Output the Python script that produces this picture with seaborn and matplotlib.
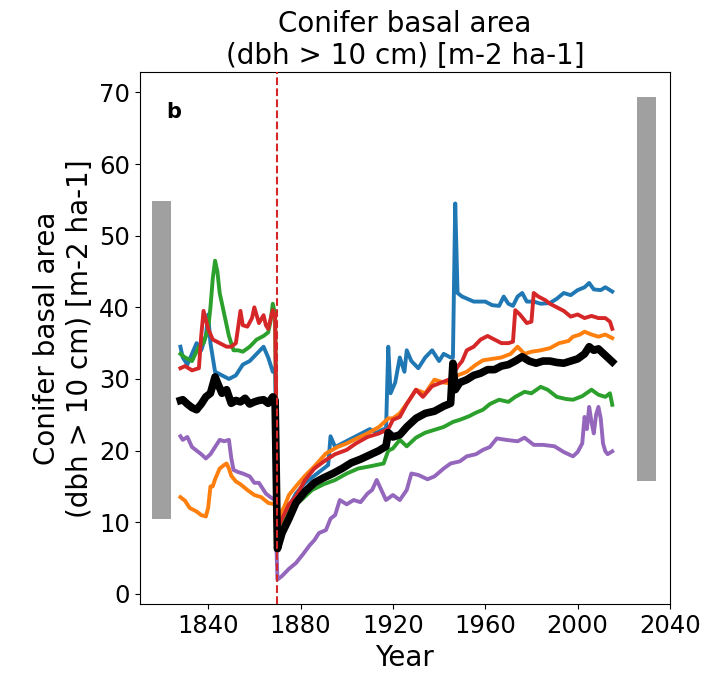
import pandas as pd
import matplotlib
matplotlib.use("Agg")
import matplotlib.pyplot as plt
import seaborn as sns

# ------------------------ data ------------------------
blue_years = [1828, 1829, 1831, 1833, 1835, 1837, 1839, 1840, 1841, 1843, 1846, 1849, 1852, 1855,
              1858, 1861, 1864, 1866, 1868, 1869, 1870, 1871, 1874, 1878, 1882, 1886, 1890, 1892,
              1893, 1895, 1898, 1901, 1904, 1907, 1910, 1913, 1916, 1917, 1918, 1919, 1921, 1923,
              1925, 1926, 1928, 1931, 1934, 1937, 1940, 1942, 1945, 1946, 1947, 1948, 1950, 1955,
              1960, 1963, 1966, 1968, 1970, 1972, 1974, 1976, 1978, 1981, 1984, 1988, 1991, 1994,
              1997, 2000, 2003, 2005, 2007, 2010, 2012, 2015]
blue_vals = [34.5, 33, 32, 33.5, 35, 34, 36, 39, 35, 31, 30.5, 30, 30.5, 32,
             32.5, 33.5, 34.5, 33, 31, 31.5, 9, 9.5, 11.5, 14, 15.5, 16.5, 17.5, 18,
             22, 20.5, 21, 21.5, 22, 22.5, 23, 22.5, 23, 22.5, 34.5, 28, 29.5, 33,
             31, 34, 32.5, 31.5, 33, 34, 32.5, 33.5, 33, 33, 54.5, 42, 41.5, 40.8,
             40.8, 40.3, 40.2, 41.5, 40.5, 40.2, 41.5, 42, 40.8, 40.8, 40.5, 40.6, 41.2, 42,
             41.7, 42.4, 42.8, 43.4, 42.5, 42.4, 42.8, 42.2]

orange_years = [1828, 1830, 1832, 1835, 1837, 1839, 1840, 1841, 1842, 1843, 1845, 1847, 1848, 1849,
                1850, 1852, 1854, 1857, 1860, 1863, 1866, 1869, 1870, 1871, 1873, 1875, 1878, 1882,
                1886, 1891, 1896, 1900, 1905, 1909, 1914, 1918, 1920, 1923, 1927, 1930, 1934, 1938,
                1942, 1945, 1948, 1952, 1956, 1959, 1963, 1967, 1971, 1974, 1977, 1980, 1984, 1988,
                1992, 1996, 1998, 2001, 2003, 2006, 2009, 2012, 2015]
orange_vals = [13.5, 13, 12, 11.5, 11, 10.8, 12, 15, 15, 16, 17.5, 18, 18.2, 17.5,
               16.5, 15.7, 15.3, 14.5, 13.8, 13.5, 12.7, 12.5, 10.5, 11, 12.2, 13.8, 15, 16.5,
               17.8, 19.6, 20.5, 21, 21.8, 22.4, 23.3, 24.5, 24.5, 25.2, 27, 28.5, 28, 29.9,
               29.5, 29.4, 30.5, 31, 32, 32.6, 32.8, 33, 33.5, 34.5, 33.5, 33.8, 34, 34.3,
               35, 35.3, 35.9, 36.2, 36.6, 36.2, 35.9, 36.2, 35.7]

green_years = [1828, 1830, 1833, 1836, 1838, 1840, 1841, 1842, 1843, 1844, 1845, 1847, 1849, 1851,
               1853, 1855, 1858, 1861, 1864, 1866, 1867, 1868, 1869, 1870, 1872, 1875, 1880, 1885,
               1890, 1895, 1900, 1905, 1910, 1916, 1918, 1920, 1923, 1926, 1930, 1934, 1938, 1942,
               1946, 1949, 1953, 1956, 1959, 1962, 1966, 1970, 1973, 1977, 1980, 1984, 1987, 1991,
               1995, 1998, 2002, 2006, 2009, 2012, 2014, 2015]
green_vals = [33.5, 33, 32.5, 34.5, 35, 37, 40, 44, 46.5, 45, 42, 39, 36, 34,
              34, 33.8, 34.5, 35.5, 36, 36.5, 38, 40.5, 39, 8.5, 9.5, 12.2, 13, 14.5,
              15.3, 15.9, 16.8, 17.5, 17.8, 18.2, 20, 20.3, 21.5, 20.6, 21.8, 22.5, 22.9, 23.3,
              24, 24.3, 24.8, 25.3, 25.7, 26.5, 27.1, 26.8, 27.5, 28.2, 28, 28.9, 28.5, 27.5,
              27.2, 27.1, 27.6, 28.5, 27.8, 27.5, 28, 26.4]

red_years = [1828, 1830, 1833, 1836, 1837, 1838, 1840, 1842, 1845, 1848, 1850, 1852, 1854, 1855,
             1857, 1859, 1860, 1862, 1864, 1865, 1866, 1868, 1869, 1870, 1872, 1875, 1878, 1882,
             1886, 1891, 1895, 1900, 1904, 1909, 1914, 1918, 1920, 1923, 1926, 1930, 1933, 1937,
             1941, 1945, 1948, 1950, 1952, 1955, 1958, 1961, 1964, 1967, 1970, 1972, 1973, 1975,
             1978, 1980, 1981, 1983, 1986, 1988, 1991, 1994, 1997, 2000, 2003, 2006, 2009, 2012,
             2014, 2015]
red_vals = [31.5, 31.8, 31.2, 31.5, 36, 39.5, 37, 35.5, 35, 34.5, 34.5, 35, 39.5, 37.5,
            37.3, 38.5, 40, 37.8, 38.9, 37.5, 37, 39.6, 38.7, 9, 10.5, 12.5, 13.6, 15.9,
            17.5, 18.7, 19.5, 20.1, 21, 21.9, 22.4, 23, 24.3, 24.7, 26.5, 28.5, 27.5, 29,
            29.5, 30, 31.7, 32.5, 34, 34.5, 35.5, 36, 35.5, 35, 35, 35.2, 39.6, 39,
            37.8, 38, 42, 41.5, 41, 40.5, 40, 39.5, 38.7, 39, 38.5, 38.8, 38.5, 38.5,
            38, 37]

purple_years = [1828, 1829, 1831, 1833, 1835, 1837, 1839, 1841, 1843, 1845, 1847, 1849, 1850, 1851,
                1853, 1855, 1858, 1860, 1862, 1865, 1867, 1869, 1870, 1872, 1875, 1878, 1881, 1884,
                1886, 1888, 1891, 1893, 1895, 1897, 1900, 1903, 1906, 1909, 1911, 1913, 1915, 1917,
                1920, 1923, 1926, 1928, 1931, 1935, 1938, 1942, 1945, 1949, 1952, 1956, 1959, 1962,
                1965, 1969, 1974, 1977, 1981, 1985, 1990, 1994, 1998, 2000, 2002, 2003, 2004, 2005,
                2006, 2007, 2008, 2009, 2010, 2011, 2012, 2013, 2015]
purple_vals = [22, 21.5, 21.9, 20.5, 20, 19.5, 18.9, 19.5, 20.5, 21.5, 21.3, 21.5, 19, 17.3,
               17, 16.8, 16.4, 15.5, 15.5, 14, 13.5, 13.1, 2, 2.5, 3.5, 4.3, 5.5, 6.8,
               7.5, 8.5, 8.9, 10.5, 11, 13.1, 12.5, 13.1, 12.8, 14, 14.5, 15.9, 14.5, 13.1,
               13.8, 13.1, 14.5, 16.8, 16.6, 16, 16.4, 17.5, 18.2, 18.5, 19.2, 19.5, 20.1, 20.5,
               21.7, 21.5, 21.3, 21.8, 20.8, 20.8, 20.6, 19.8, 19.2, 19.8, 21, 24.7, 23, 26.1,
               24, 22.4, 25, 26.1, 24.5, 21, 19.9, 19.5, 19.9]

mean_years = [1828, 1829, 1831, 1833, 1835, 1837, 1839, 1841, 1843, 1844, 1846, 1848, 1850, 1852,
              1854, 1856, 1858, 1860, 1862, 1864, 1866, 1868, 1869, 1870, 1872, 1875, 1878, 1882,
              1886, 1890, 1894, 1898, 1902, 1906, 1910, 1914, 1917, 1918, 1920, 1923, 1926, 1930,
              1934, 1938, 1942, 1945, 1946, 1947, 1949, 1952, 1955, 1958, 1961, 1964, 1967, 1970,
              1973, 1976, 1979, 1982, 1985, 1988, 1991, 1994, 1997, 2000, 2003, 2005, 2007, 2009,
              2011, 2013, 2015]
mean_vals = [27, 27.1, 26.5, 26, 25.7, 26.5, 27.5, 28, 30.3, 29.5, 28, 28.5, 26.6, 27,
             26.8, 27.3, 26.5, 26.8, 27, 27.1, 26.6, 27.5, 27, 6.3, 8.5, 10.5, 12.7, 14.3,
             15.5, 16.2, 16.8, 17.5, 18.3, 18.8, 19.4, 20, 20.6, 22.5, 21.9, 22.2, 23.3, 24.5,
             25.2, 25.5, 26.2, 26.6, 32.2, 28.5, 29.5, 29.9, 30.5, 30.8, 31.3, 31.3, 31.8, 32,
             32.5, 33.1, 32.5, 32.2, 32.5, 32.5, 32.3, 32.2, 32.5, 32.8, 33.5, 34.5, 34, 34.2,
             33.6, 33, 32.4]

# range bars at both sides (low / high)
bar_years = [1820, 2030]
bar_low = [10.5, 15.8]
bar_high = [54.9, 69.3]

disturbance_year = 1870

# ------------------------ long-form table ------------------------
series = {
    "s1": (blue_years, blue_vals),
    "s2": (orange_years, orange_vals),
    "s3": (green_years, green_vals),
    "s4": (red_years, red_vals),
    "s5": (purple_years, purple_vals),
}
rows = []
for name, (yrs, vals) in series.items():
    for yr, v in zip(yrs, vals):
        rows.append({"Year": yr, "ba": v, "site": name})
df = pd.DataFrame(rows)
df_mean = pd.DataFrame({"Year": mean_years, "ba": mean_vals})

# ------------------------ plot ------------------------
fig, ax = plt.subplots(figsize=(7.06, 6.76), dpi=100)
fig.subplots_adjust(left=0.198, right=0.949, top=0.893, bottom=0.106)

sns.lineplot(data=df, x="Year", y="ba", hue="site", hue_order=list(series.keys()),
             palette=sns.color_palette("tab10", 5), estimator=None, sort=False,
             linewidth=2.8, legend=False, ax=ax)
sns.lineplot(data=df_mean, x="Year", y="ba", color="black", estimator=None, sort=False,
             linewidth=5.5, ax=ax)

ax.bar(bar_years, [h - l for h, l in zip(bar_high, bar_low)], bottom=bar_low,
       width=8.2, color="#a0a0a0")
ax.axvline(disturbance_year, color="#d62728", linestyle="--", linewidth=1.5, zorder=5)

ax.set_xlim(1810.4, 2040)
ax.set_ylim(-1.46, 72.8)
ax.set_xticks([1840, 1880, 1920, 1960, 2000, 2040])
ax.set_yticks([0, 10, 20, 30, 40, 50, 60, 70])
ax.tick_params(labelsize=17.5)

ax.set_xlabel("Year", fontsize=20)
ax.set_ylabel("Conifer basal area\n(dbh > 10 cm) [m-2 ha-1]", fontsize=20)
ax.set_title("Conifer basal area\n(dbh > 10 cm) [m-2 ha-1]", fontsize=20)
ax.text(0.05, 0.915, "b", transform=ax.transAxes, fontsize=15, fontweight="bold")

plt.savefig("out.png", dpi=100)
